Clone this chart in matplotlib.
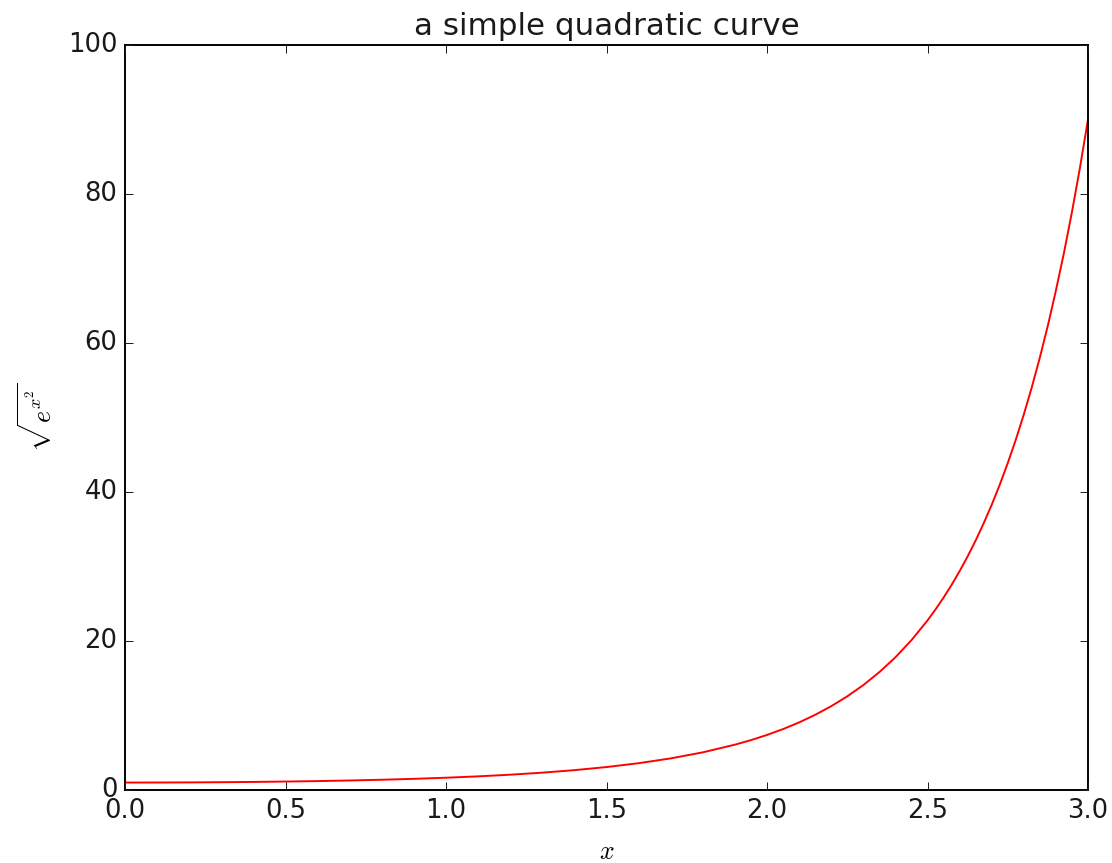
import matplotlib
matplotlib.use('Agg')
import matplotlib.pyplot as plt

# values
x_vals = [0.0, 0.1, 0.2, 0.3, 0.4, 0.5, 0.6, 0.7, 0.8, 0.9,
          1.0, 1.1, 1.2, 1.3, 1.4, 1.5, 1.6, 1.7, 1.8, 1.9, 1.95,
          2.0, 2.05, 2.1, 2.15, 2.2, 2.25, 2.3, 2.35, 2.4, 2.45,
          2.5, 2.525, 2.55, 2.575, 2.6, 2.625, 2.65, 2.675, 2.7, 2.725,
          2.75, 2.775, 2.8, 2.825, 2.85, 2.875, 2.9, 2.925, 2.95, 2.975, 3.0]
y_vals = [1.00, 1.005, 1.02, 1.046, 1.083, 1.133, 1.197, 1.278, 1.377, 1.499,
          1.649, 1.831, 2.054, 2.328, 2.664, 3.080, 3.597, 4.242, 5.053, 6.085, 6.694,
          7.389, 8.177, 9.07, 10.09, 11.25, 12.57, 14.08, 15.82, 17.81, 20.11,
          22.76, 24.24, 25.82, 27.53, 29.37, 31.35, 33.49, 35.80, 38.28, 40.97,
          43.88, 47.01, 50.40, 54.07, 58.05, 62.35, 67.04, 72.08, 77.57, 83.54, 90.02]

plt.style.use('classic')
plt.rcParams['font.size'] = 13.4
plt.rcParams['text.color'] = '#1a1a1a'
plt.rcParams['xtick.color'] = '#1a1a1a'
plt.rcParams['ytick.color'] = '#1a1a1a'

fig = plt.figure(figsize=(8, 863 / 139), dpi=139)
fig.patch.set_facecolor('white')
ax = fig.add_axes([125 / 1112, 73 / 863, 963 / 1112, 745 / 863])
ax.plot(x_vals, y_vals, color='red')
ax.set_xlim(0, 3.0)
ax.set_ylim(0, 100)
ax.set_title('a simple quadratic curve')
ax.set_xlabel('$x$', labelpad=8)
ax.set_ylabel(r'$\sqrt{e^{x^2}}$')

fig.savefig('out.png', dpi=139, facecolor='white')
